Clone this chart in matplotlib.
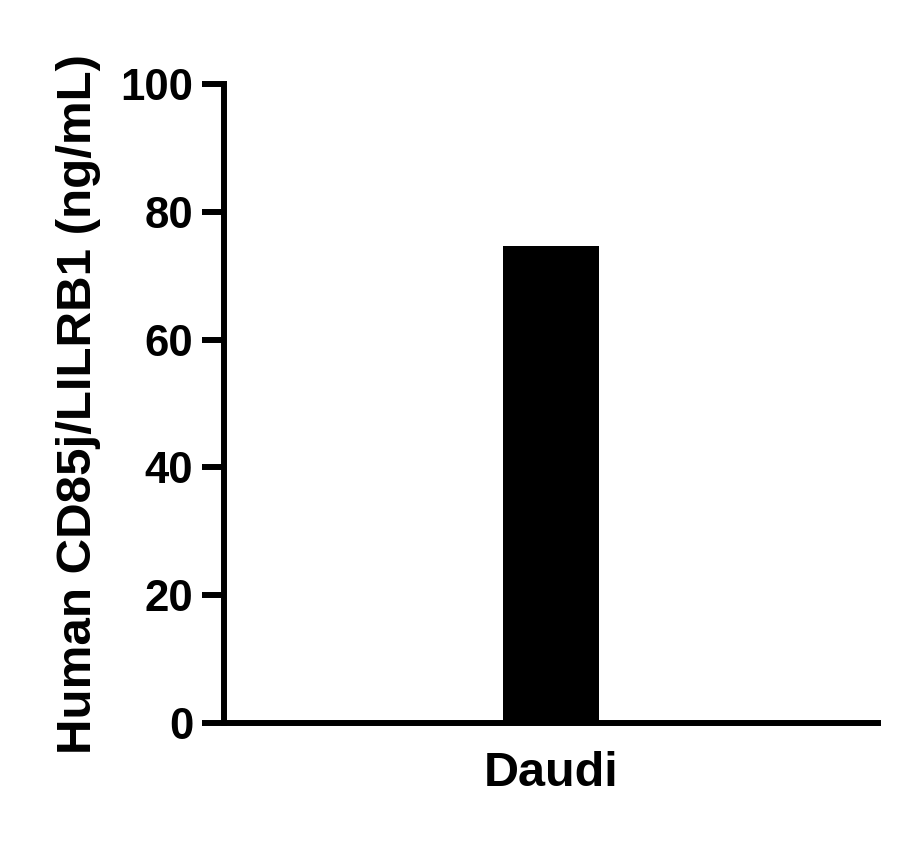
import matplotlib.pyplot as plt

# data
categories = ["Daudi"]
values = [74.6]
y_ticks = [0, 20, 40, 60, 80, 100]

plt.rcParams["font.family"] = ["Liberation Sans", "DejaVu Sans"]
plt.rcParams["font.weight"] = "bold"

fig = plt.figure(figsize=(9.06, 8.43), dpi=100)
ax = fig.add_axes([0.247, 0.1423, 0.722, 0.7581])

ax.bar(range(len(categories)), values, width=0.294, color="black")

ax.set_xlim(-1, 1)
ax.set_ylim(0, 100)
ax.set_yticks(y_ticks)
ax.set_xticks(range(len(categories)))
ax.set_xticklabels(categories)

for side in ["top", "right"]:
    ax.spines[side].set_visible(False)
for side in ["left", "bottom"]:
    ax.spines[side].set_linewidth(4.3)

ax.tick_params(axis="y", length=16, width=4.3, labelsize=31.5, pad=6)
ax.tick_params(axis="x", length=0, labelsize=35, pad=20)

ax.set_ylabel("Human CD85j/LILRB1 (ng/mL)", fontsize=35.5, fontweight="bold", labelpad=14)

fig.savefig("out.png", dpi=100)
